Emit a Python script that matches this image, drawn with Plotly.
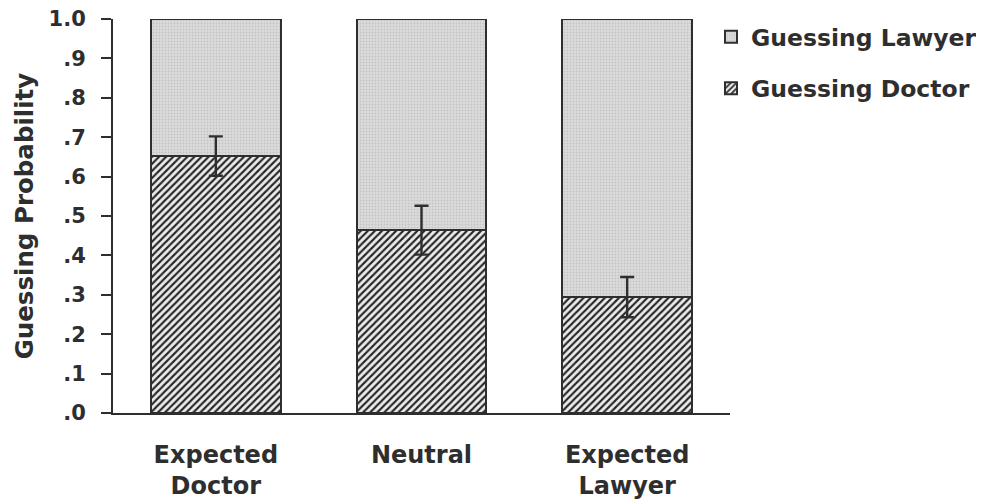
import plotly.graph_objects as go

categories = ["Expected<br>Doctor", "Neutral", "Expected<br>Lawyer"]
doctor = [0.652, 0.464, 0.294]
doctor_err = [0.050, 0.062, 0.051]
lawyer = [0.348, 0.536, 0.706]
ytick_vals = [0.0, 0.1, 0.2, 0.3, 0.4, 0.5, 0.6, 0.7, 0.8, 0.9, 1.0]
ytick_text = [".0", ".1", ".2", ".3", ".4", ".5", ".6", ".7", ".8", ".9", "1.0"]

INK = "#2e2e2e"
FONT = "DejaVu Sans"

fig = go.Figure()
fig.add_trace(go.Bar(
    x=categories, y=doctor, name="Guessing Doctor",
    legendgroup="d", legendrank=2,
    width=0.63,
    marker=dict(color="#ececec",
                line=dict(color=INK, width=2),
                pattern=dict(shape="/", fgcolor="#262626", bgcolor="#ececec",
                             size=5, solidity=0.42, fillmode="replace")),
))
fig.add_trace(go.Bar(
    x=categories, y=lawyer, name="Guessing Lawyer",
    legendgroup="l", legendrank=1,
    width=0.63,
    marker=dict(color="#d9d9d9",
                line=dict(color=INK, width=2),
                pattern=dict(shape=".", fgcolor="#c4c4c4", bgcolor="#dcdcdc",
                             size=3, solidity=0.3, fillmode="replace")),
))
# error bars drawn on top of the stacked bars
fig.add_trace(go.Scatter(
    x=categories, y=doctor, mode="markers", showlegend=False, hoverinfo="skip",
    marker=dict(size=1, color="rgba(0,0,0,0)"),
    error_y=dict(type="data", array=doctor_err, color=INK, thickness=2.4, width=7),
))

fig.update_layout(
    width=984, height=504,
    barmode="stack",
    plot_bgcolor="white", paper_bgcolor="white",
    margin=dict(l=105, r=262, t=11, b=99, autoexpand=False),
    font=dict(family=FONT, size=23, color=INK, weight="bold"),
    showlegend=True,
    legend=dict(
        xref="container", yref="container",
        x=703 / 984, y=1 - 7 / 504, xanchor="left", yanchor="top",
        traceorder="grouped", tracegroupgap=18,
        font=dict(family=FONT, size=23.5, color=INK, weight="bold"),
        bgcolor="rgba(0,0,0,0)",
    ),
    xaxis=dict(
        automargin=False,
        showline=True, linecolor=INK, linewidth=2,
        ticks="", showgrid=False, zeroline=False,
        tickfont=dict(family=FONT, size=24, color=INK, weight="bold"),
        ticklabelstandoff=19,
        ticklabeloverflow="allow",
    ),
    yaxis=dict(
        automargin=False,
        range=[0, 1], tickvals=ytick_vals, ticktext=ytick_text,
        showline=True, linecolor=INK, linewidth=2,
        ticks="outside", ticklen=10, tickwidth=2, tickcolor=INK,
        showgrid=False, zeroline=False,
        tickfont=dict(family=FONT, size=21, color=INK, weight="bold"),
        ticklabelstandoff=11,
        ticklabeloverflow="allow",
        title=dict(text="Guessing Probability", standoff=8,
                   font=dict(family=FONT, size=24.5, color=INK, weight="bold")),
    ),
    yaxis2=dict(
        overlaying="y", side="left", range=[0, 1], tickvals=ytick_vals,
        showticklabels=False, showline=False, showgrid=False, zeroline=False,
        ticks="inside", ticklen=10, tickwidth=2, tickcolor=INK,
    ),
)

fig.write_html("out.html")
